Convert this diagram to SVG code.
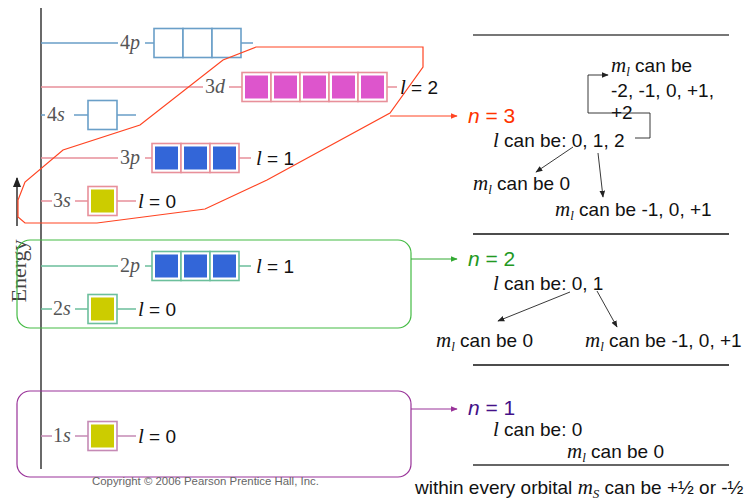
<svg xmlns="http://www.w3.org/2000/svg" width="745" height="501" viewBox="0 0 745 501">
<defs>
<style>
.sans{font-family:"Liberation Sans",Arial,sans-serif;font-size:19px;fill:#111}
.ser{font-family:"Liberation Serif","Times New Roman",serif}
.lab{font-family:"Liberation Serif","Times New Roman",serif;font-size:20px;fill:#555}
.it{font-style:italic}
.li{font-family:"Liberation Serif","Times New Roman",serif;font-style:italic;font-size:21px}
.sub{font-family:"Liberation Serif","Times New Roman",serif;font-style:italic;font-size:13px}
.bl{stroke:#6a9fc8;stroke-width:1.6;fill:none}
.pk{stroke:#e8909a;stroke-width:1.6;fill:none}
.gr{stroke:#6cbf9c;stroke-width:1.6;fill:none}
.pu{stroke:#c58ab5;stroke-width:1.6;fill:none}
.cb{fill:#fff;stroke:#6a9fc8;stroke-width:1.6}
.cp{fill:#fff;stroke:#e8909a;stroke-width:1.6}
.cg{fill:#fff;stroke:#6cbf9c;stroke-width:1.6}
.cu{fill:#fff;stroke:#c58ab5;stroke-width:1.6}
.mag{fill:#dd55cc}
.blu{fill:#3366d8}
.yel{fill:#cccc00}
.ar{stroke:#222;stroke-width:0.9;fill:none}
.hr{stroke:#111;stroke-width:1.5}
.nn{font-family:"Liberation Sans",Arial,sans-serif;font-size:21px}
</style>
<marker id="mk" viewBox="0 0 10 10" refX="9" refY="5" markerWidth="7" markerHeight="7" orient="auto" markerUnits="userSpaceOnUse"><path d="M0,1 L10,5 L0,9 z" fill="#222"/></marker>
<marker id="mr" viewBox="0 0 10 10" refX="9" refY="5" markerWidth="7" markerHeight="7" orient="auto" markerUnits="userSpaceOnUse"><path d="M0,1 L10,5 L0,9 z" fill="#ff4422"/></marker>
<marker id="mg" viewBox="0 0 10 10" refX="9" refY="5" markerWidth="7" markerHeight="7" orient="auto" markerUnits="userSpaceOnUse"><path d="M0,1 L10,5 L0,9 z" fill="#33aa33"/></marker>
<marker id="mp" viewBox="0 0 10 10" refX="9" refY="5" markerWidth="7" markerHeight="7" orient="auto" markerUnits="userSpaceOnUse"><path d="M0,1 L10,5 L0,9 z" fill="#993399"/></marker>
<marker id="me" viewBox="0 0 10 10" refX="9" refY="5" markerWidth="10" markerHeight="10" orient="auto" markerUnits="userSpaceOnUse"><path d="M0,1 L10,5 L0,9 z" fill="#222"/></marker>
</defs>
<rect width="745" height="501" fill="#fff"/>

<g id="axis">
<line x1="41" y1="8" x2="41" y2="469" stroke="#444" stroke-width="1.6"/>
<line x1="17" y1="226" x2="17" y2="178" stroke="#222" stroke-width="1.4" marker-end="url(#me)"/>
<text class="ser" style="font-size:22px;fill:#444" transform="translate(26,271) rotate(-90)" text-anchor="middle">Energy</text>
</g>

<g id="row-4p">
<path class="bl" d="M41,43 H118 M145,43 H154 M241,43 H253"/>
<text class="lab" x="120" y="49">4<tspan class="it">p</tspan></text>
<rect class="cb" x="154" y="28.5" width="29" height="29"/>
<rect class="cb" x="183" y="28.5" width="29" height="29"/>
<rect class="cb" x="212" y="28.5" width="29" height="29"/>
</g>

<g id="row-3d">
<path class="pk" d="M41,87 H203 M229,87 H242 M387,87 H397"/>
<text class="lab" x="205" y="93">3<tspan class="it">d</tspan></text>
<rect class="cp" x="242" y="72.5" width="29" height="29"/>
<rect class="cp" x="271" y="72.5" width="29" height="29"/>
<rect class="cp" x="300" y="72.5" width="29" height="29"/>
<rect class="cp" x="329" y="72.5" width="29" height="29"/>
<rect class="cp" x="358" y="72.5" width="29" height="29"/>
<rect class="mag" x="245" y="75.5" width="23" height="23"/>
<rect class="mag" x="274" y="75.5" width="23" height="23"/>
<rect class="mag" x="303" y="75.5" width="23" height="23"/>
<rect class="mag" x="332" y="75.5" width="23" height="23"/>
<rect class="mag" x="361" y="75.5" width="23" height="23"/>
<text class="sans" x="400" y="94"><tspan class="li">l</tspan> = 2</text>
</g>

<g id="row-4s">
<path class="bl" d="M41,115 H45 M74,115 H88 M117,115 H136"/>
<text class="lab" x="47" y="121">4<tspan class="it">s</tspan></text>
<rect class="cb" x="88" y="100.5" width="29" height="29"/>
</g>

<g id="row-3p">
<path class="pk" d="M41,158 H118 M145,158 H152 M239,158 H251"/>
<text class="lab" x="120" y="164">3<tspan class="it">p</tspan></text>
<rect class="cp" x="152" y="143.5" width="29" height="29"/>
<rect class="cp" x="181" y="143.5" width="29" height="29"/>
<rect class="cp" x="210" y="143.5" width="29" height="29"/>
<rect class="blu" x="155" y="146.5" width="23" height="23"/>
<rect class="blu" x="184" y="146.5" width="23" height="23"/>
<rect class="blu" x="213" y="146.5" width="23" height="23"/>
<text class="sans" x="256" y="165"><tspan class="li">l</tspan> = 1</text>
</g>

<g id="row-3s">
<path class="pk" d="M41,201 H52 M75,201 H88 M117,201 H136"/>
<text class="lab" x="53" y="207">3<tspan class="it">s</tspan></text>
<rect class="cp" x="88" y="186.5" width="29" height="29"/>
<rect class="yel" x="91" y="189.5" width="23" height="23"/>
<text class="sans" x="138" y="208"><tspan class="li">l</tspan> = 0</text>
</g>

<g id="row-2p">
<path class="gr" d="M41,266 H118 M145,266 H152 M239,266 H251"/>
<text class="lab" x="120" y="272">2<tspan class="it">p</tspan></text>
<rect class="cg" x="152" y="251.5" width="29" height="29"/>
<rect class="cg" x="181" y="251.5" width="29" height="29"/>
<rect class="cg" x="210" y="251.5" width="29" height="29"/>
<rect class="blu" x="155" y="254.5" width="23" height="23"/>
<rect class="blu" x="184" y="254.5" width="23" height="23"/>
<rect class="blu" x="213" y="254.5" width="23" height="23"/>
<text class="sans" x="256" y="273"><tspan class="li">l</tspan> = 1</text>
</g>

<g id="row-2s">
<path class="gr" d="M41,309 H52 M75,309 H88 M117,309 H136"/>
<text class="lab" x="53" y="315">2<tspan class="it">s</tspan></text>
<rect class="cg" x="88" y="294.5" width="29" height="29"/>
<rect class="yel" x="91" y="297.5" width="23" height="23"/>
<text class="sans" x="138" y="316"><tspan class="li">l</tspan> = 0</text>
</g>

<g id="row-1s">
<path class="pu" d="M41,436 H52 M75,436 H88 M117,436 H136"/>
<text class="lab" x="53" y="442">1<tspan class="it">s</tspan></text>
<rect class="cu" x="88" y="421.5" width="29" height="29"/>
<rect class="yel" x="91" y="424.5" width="23" height="23"/>
<text class="sans" x="138" y="443"><tspan class="li">l</tspan> = 0</text>
</g>

<g id="group-n3">
<path d="M256,47 L423,47 L423,67 L390,113 L267,180 L205,209 L97,223 L25,223 L18,217 L18,200 L25,182 L63,150 L140,125 L223,60 Z" fill="none" stroke="#ff4422" stroke-width="1.2"/>
</g>
<g id="group-n2">
<rect x="17" y="240" width="394" height="88" rx="13" fill="none" stroke="#44bb44" stroke-width="1.2"/>
</g>
<g id="group-n1">
<rect x="17" y="391" width="394" height="86" rx="13" fill="none" stroke="#993399" stroke-width="1.2"/>
</g>

<text x="92" y="485" style="font-family:'Liberation Sans',Arial,sans-serif;font-size:11.4px;fill:#666">Copyright © 2006 Pearson Prentice Hall, Inc.</text>

<g id="rules">
<line x1="473" y1="35" x2="729" y2="35" stroke="#777" stroke-width="1.8"/>
<line class="hr" x1="473" y1="234" x2="729" y2="234"/>
<line class="hr" x1="473" y1="365" x2="729" y2="365"/>
<line x1="473" y1="465" x2="729" y2="465" stroke="#666" stroke-width="1.8"/>
</g>

<g id="n3-info">
<text class="nn" x="468" y="123" style="fill:#ff3300"><tspan class="it">n</tspan> = 3</text>
<text class="sans" x="493" y="147"><tspan class="li">l</tspan> can be: 0, 1, 2</text>
<text class="sans" x="611" y="72"><tspan class="li">m</tspan><tspan class="sub" dy="4">l</tspan><tspan dy="-4"> can be</tspan></text>
<text class="sans" x="611" y="97">-2, -1, 0, +1,</text>
<text class="sans" x="611" y="119">+2</text>
<text class="sans" x="473" y="190"><tspan class="li">m</tspan><tspan class="sub" dy="4">l</tspan><tspan dy="-4"> can be 0</tspan></text>
<text class="sans" x="555" y="216"><tspan class="li">m</tspan><tspan class="sub" dy="4">l</tspan><tspan dy="-4"> can be -1, 0, +1</tspan></text>
</g>

<g id="n2-info">
<text class="nn" x="468" y="266" style="fill:#229922"><tspan class="it">n</tspan> = 2</text>
<text class="sans" x="493" y="290"><tspan class="li">l</tspan> can be: 0, 1</text>
<text class="sans" x="436" y="347"><tspan class="li">m</tspan><tspan class="sub" dy="4">l</tspan><tspan dy="-4"> can be 0</tspan></text>
<text class="sans" x="585" y="347"><tspan class="li">m</tspan><tspan class="sub" dy="4">l</tspan><tspan dy="-4"> can be -1, 0, +1</tspan></text>
</g>

<g id="n1-info">
<text class="nn" x="468" y="415" style="fill:#441188"><tspan class="it">n</tspan> = 1</text>
<text class="sans" x="493" y="436"><tspan class="li">l</tspan> can be: 0</text>
<text class="sans" x="567" y="458"><tspan class="li">m</tspan><tspan class="sub" dy="4">l</tspan><tspan dy="-4"> can be 0</tspan></text>
</g>

<text class="sans" x="415" y="494">within every orbital <tspan class="li">m</tspan><tspan class="sub" dy="4">S</tspan><tspan dy="-4"> can be +½ or -½</tspan></text>

<g id="connectors">
<line x1="390" y1="116" x2="457" y2="116" stroke="#ff4422" stroke-width="1" marker-end="url(#mr)"/>
<line x1="411" y1="259" x2="457" y2="259" stroke="#33aa33" stroke-width="1" marker-end="url(#mg)"/>
<line x1="411" y1="409" x2="457" y2="409" stroke="#993399" stroke-width="1" marker-end="url(#mp)"/>
<polyline class="ar" points="635,138 650,138 650,113 588,113 588,75 608,75" marker-end="url(#mk)"/>
<line class="ar" x1="573" y1="147" x2="536" y2="172" marker-end="url(#mk)"/>
<line class="ar" x1="598" y1="153" x2="603" y2="197" marker-end="url(#mk)"/>
<line class="ar" x1="570" y1="292" x2="498" y2="321" marker-end="url(#mk)"/>
<line class="ar" x1="597" y1="291" x2="617" y2="327" marker-end="url(#mk)"/>
</g>
</svg>
